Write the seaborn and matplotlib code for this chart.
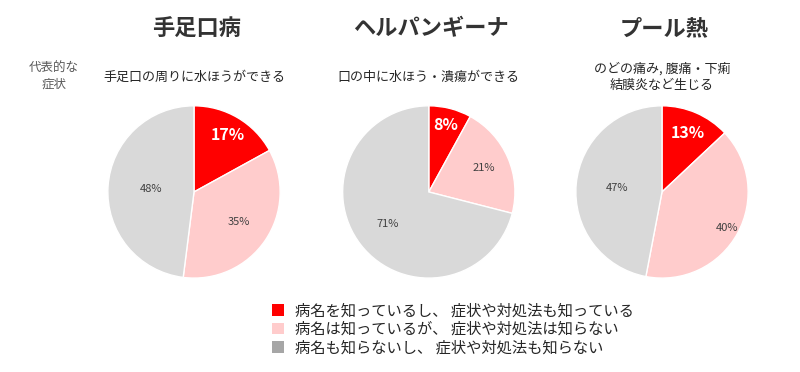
import numpy as np
import seaborn as sns
from matplotlib import pyplot as plt
from matplotlib.patches import Patch

diseases = ["手足口病", "ヘルパンギーナ", "プール熱"]
symptoms = ["手足口の周りに水ほうができる", "口の中に水ほう・潰瘍ができる", "のどの痛み, 腹痛・下痢\n結膜炎など生じる"]
categories = ["病名を知っているし、 症状や対処法も知っている",
              "病名は知っているが、 症状や対処法は知らない",
              "病名も知らないし、 症状や対処法も知らない"]
shares = [[17, 35, 48], [8, 21, 71], [13, 40, 47]]

colors = ["#FF0000", "#FFCCCC", "#D9D9D9"]
legend_colors = ["#FF0000", "#FFCCCC", "#A6A6A6"]
# radial position of each percentage label, per pie
label_r = [[0.77, 0.63, 0.5], [0.8, 0.69, 0.61], [0.75, 0.86, 0.52]]

sns.set_theme(style="white")
plt.rcParams['font.family'] = ['Noto Sans CJK JP', 'DejaVu Sans']

fig = plt.figure(figsize=(8, 3.72), dpi=100)
centers = [0.2425, 0.536, 0.8275]
w, h = 0.2175, 0.468

for i, (name, sym, vals) in enumerate(zip(diseases, symptoms, shares)):
	ax = fig.add_axes([centers[i] - w / 2, 0.484 - h / 2, w, h])
	wedges, _ = ax.pie(vals, colors=colors, startangle=90, counterclock=False,
					   wedgeprops={"edgecolor": "white", "linewidth": 1})
	for j, (wd, v) in enumerate(zip(wedges, vals)):
		ang = np.deg2rad((wd.theta1 + wd.theta2) / 2)
		x, y = label_r[i][j] * np.cos(ang), label_r[i][j] * np.sin(ang)
		if j == 0:
			ax.text(x, y, f"{v}%", ha="center", va="center", color="white", fontsize=11.5, fontweight="bold")
		else:
			ax.text(x, y, f"{v}%", ha="center", va="center", color="#404040", fontsize=8)
	ax.set_xlim(-1.01, 1.01)
	ax.set_ylim(-1.01, 1.01)
	ax.set_aspect("equal")
	fig.text(centers[i] + 0.003, 1 - 29 / 372, name, ha="center", va="center", fontsize=16, fontweight="bold", color="#333333")
	fig.text(centers[i], 1 - 77 / 372, sym, ha="center", va="center", fontsize=9.4, color="#262626", linespacing=1.35)

fig.text(54 / 800, 1 - 76 / 372, "代表的な\n症状", ha="center", va="center", fontsize=9, color="#595959", linespacing=1.25)

handles = [Patch(facecolor=c, edgecolor="none") for c in legend_colors]
fig.legend(handles, categories, loc="upper left", bbox_to_anchor=(264 / 800, 1 - 295 / 372), frameon=False,
		   fontsize=11, handlelength=0.8, handleheight=0.8, handletextpad=0.75, labelspacing=0.08, borderpad=0)

fig.savefig("out.png", dpi=100)
